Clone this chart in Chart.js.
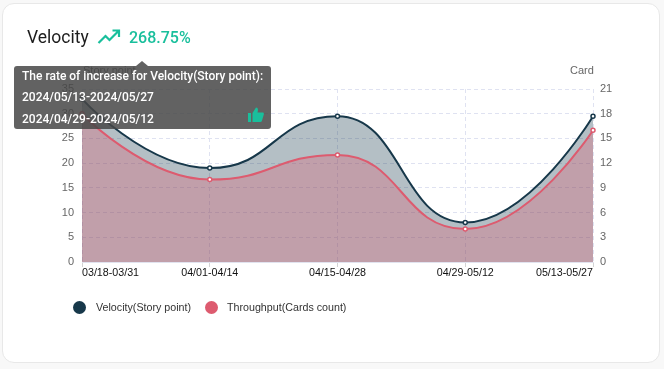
<!DOCTYPE html>
<html><head><meta charset="utf-8">
<style>
html,body{margin:0;padding:0;background:#f8f8f8;width:664px;height:369px;overflow:hidden;font-family:Roboto,"Liberation Sans",sans-serif}
#card{position:absolute;left:2px;top:3px;width:656px;height:358px;background:#fff;border:1px solid #e8e8e8;border-radius:12px}
#wrap{position:absolute;left:0;top:0;width:664px;height:369px}
#title{position:absolute;left:27px;top:25px;font-size:17.5px;line-height:24px;color:#1c1c1c}
#pct{position:absolute;left:129px;top:26px;font-size:16px;line-height:24px;color:#19bf9c;font-weight:500}
#trend{position:absolute;left:97px;top:28px}
.axt{position:absolute;font:11px "Liberation Sans",sans-serif;color:#666;line-height:14px}
#tip{position:absolute;left:14px;top:66px;width:257px;height:63px;background:rgba(70,70,70,.85);border-radius:3px;color:#fff;font-size:12px;font-weight:500}
#tip div{position:absolute;left:8px;line-height:20px;white-space:nowrap}
#tip:before{content:"";position:absolute;left:122px;top:-5px;border-left:6px solid transparent;border-right:6px solid transparent;border-bottom:5px solid rgba(70,70,70,.85)}
#thumb{position:absolute;left:234px;top:41px}
.lg{position:absolute;top:299px;height:16px;font:10.7px/16px "Liberation Sans",sans-serif;color:#333;white-space:nowrap}
.lg i{position:absolute;left:0;top:1.5px;width:13px;height:13px;border-radius:50%}
.lg span{position:absolute;left:23px}
</style></head><body>
<div id="card"></div>
<div id="wrap"><canvas id="c" width="664" height="369"></canvas></div>
<div id="title">Velocity</div>
<svg id="trend" width="24" height="18" viewBox="0 0 24 18"><path d="M1.5 15 L8.5 8 L12.5 12 L21 3.5 M15.5 2.5 H22 V9" fill="none" stroke="#19bf9c" stroke-width="2.2"/></svg>
<div id="pct">268.75%</div>
<div class="axt" style="left:83px;top:63px">Story point</div>
<div class="axt" style="left:570px;top:63px">Card</div>
<div id="tip">
<div style="top:0px">The rate of increase for Velocity(Story point):</div>
<div style="top:21px">2024/05/13-2024/05/27</div>
<div style="top:43px">2024/04/29-2024/05/12</div>
<svg id="thumb" width="16" height="15" viewBox="0 0 16 15"><path d="M0 6 H3 V15 H0 Z M4.5 6 L8 0.5 C9.5 0.5 10 1.5 10 3 L9.5 5.5 H15 C15.8 5.5 16 6.5 15.8 7.5 L14 13.5 C13.7 14.5 13 15 12 15 H4.5 Z" fill="#19bf9c"/></svg>
</div>
<div class="lg" id="lg0" style="left:73px"></div>
<div class="lg" id="lg1" style="left:205px"></div>
<script src="https://cdn.jsdelivr.net/npm/chart.js@4/dist/chart.umd.min.js"></script>
<script>
const categories = ["03/18-03/31","04/01-04/14","04/15-04/28","04/29-05/12","05/13-05/27"];
const velocity = [33, 19, 29.5, 8, 29.5];
const throughput = [18, 10, 13, 4, 16];
const leftTicks = [0,5,10,15,20,25,30,35];
const rightTicks = [0,3,6,9,12,15,18,21];
const velocityName = "Velocity(Story point)";
const throughputName = "Throughput(Cards count)";
const velocityColor = "#17384a";
const throughputColor = "#dd5b6f";
document.getElementById("lg0").innerHTML = `<i style="background:${velocityColor}"></i><span>${velocityName}</span>`;
document.getElementById("lg1").innerHTML = `<i style="background:${throughputColor}"></i><span style="left:22px">${throughputName}</span>`;
const grid = {color:"#dfe2f1",lineWidth:1};
const dash = [4,3];
const wideSmooth = {
  id:"wideSmooth",
  beforeDatasetsDraw(chart){
    chart.getSortedVisibleDatasetMetas().forEach(meta=>{
      meta.dataset.updateControlPoints(chart.chartArea,"x");
      const pts = meta.data;
      pts.forEach((p,i)=>{
        const prev = pts[i-1], next = pts[i+1];
        p.cp1x = prev && next ? p.x-(p.x-prev.x)/2 : p.x; p.cp1y = p.y;
        p.cp2x = prev && next ? p.x+(next.x-p.x)/2 : p.x; p.cp2y = p.y;
      });
    });
  }
};
new Chart(document.getElementById("c"),{
  type:"line",
  plugins:[wideSmooth],
  data:{labels:categories,datasets:[
    {label:velocityName,data:velocity,yAxisID:"y",order:2,borderColor:velocityColor,backgroundColor:"rgba(23,56,74,.32)",fill:"origin",cubicInterpolationMode:"monotone",borderWidth:2,pointRadius:2,pointBorderWidth:1.5,pointBackgroundColor:"#fff",pointBorderColor:velocityColor},
    {label:throughputName,data:throughput,yAxisID:"y1",order:1,borderColor:throughputColor,backgroundColor:"rgba(221,91,111,.32)",fill:"origin",cubicInterpolationMode:"monotone",borderWidth:2,pointRadius:2,pointBorderWidth:1.5,pointBackgroundColor:"#fff",pointBorderColor:throughputColor}
  ]},
  options:{
    responsive:false,animation:false,
    layout:{padding:{left:46,right:37,top:89,bottom:87}},
    plugins:{tooltip:{enabled:false},legend:{display:false}},
    scales:{
      x:{offset:false,afterFit(a){a.height=20},grid:{...grid,tickColor:"#d4d4d4",tickLength:5},border:{dash:dash,color:"#e1e3ef"},
        ticks:{color:"#111",font:{family:"Liberation Sans",size:10.7},maxRotation:0,autoSkip:false,padding:0,align:"inner"}},
      y:{position:"left",min:0,max:35,afterFit(a){a.width=36},afterBuildTicks(a){a.ticks=leftTicks.map(v=>({value:v}))},
        grid:{...grid,drawTicks:false},border:{display:false,dash:dash},
        ticks:{color:"#666",font:{family:"Liberation Sans",size:11},padding:8}},
      y1:{position:"right",min:0,max:21,afterFit(a){a.width=34},afterBuildTicks(a){a.ticks=rightTicks.map(v=>({value:v}))},
        grid:{drawOnChartArea:false,drawTicks:false},border:{display:false},
        ticks:{color:"#666",font:{family:"Liberation Sans",size:11},padding:7}}
    }
  }
});
</script>
</body></html>
